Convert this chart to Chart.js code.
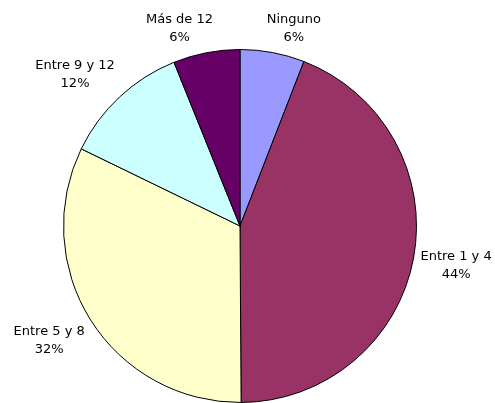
<!DOCTYPE html>
<html>
<head>
<meta charset="utf-8">
<script src="https://cdn.jsdelivr.net/npm/chart.js@4/dist/chart.umd.min.js"></script>
<style>
  html, body { margin: 0; padding: 0; background: #ffffff; }
  #wrap { width: 495px; height: 403px; position: relative; }
</style>
</head>
<body>
<div id="wrap"><canvas id="c" width="495" height="403"></canvas></div>
<script>
const categories = ["Ninguno", "Entre 1 y 4", "Entre 5 y 8", "Entre 9 y 12", "Más de 12"];
const values = [5.9, 44.0, 32.3, 11.7, 6.1];
const percentLabels = ["6%", "44%", "32%", "12%", "6%"];
const colors = ["#9999FF", "#993366", "#FFFFCC", "#CCFFFF", "#660066"];

const outsideLabels = {
  id: 'outsideLabels',
  afterDatasetsDraw(chart) {
    const ctx = chart.ctx;
    const meta = chart.getDatasetMeta(0);
    ctx.save();
    ctx.font = '13px "DejaVu Sans", Verdana, sans-serif';
    ctx.fillStyle = '#000000';
    ctx.textAlign = 'center';
    ctx.textBaseline = 'middle';
    const lineGap = 18;
    const hh = 17;
    meta.data.forEach((arc, i) => {
      const p = arc.getProps(['x', 'y', 'startAngle', 'endAngle', 'outerRadius'], true);
      const mid = (p.startAngle + p.endAngle) / 2;
      const dx = Math.cos(mid), dy = Math.sin(mid);
      const hw = Math.max(ctx.measureText(categories[i]).width, ctx.measureText(percentLabels[i]).width) / 2;
      const R = p.outerRadius + 7;
      const fx = Math.sign(dx) * Math.min(1, Math.abs(dx) * 4);
      const fy = Math.sign(dy) * Math.min(1, Math.abs(dy) * 2);
      const cx = p.x + dx * R + hw * fx;
      const cy = p.y + dy * R + hh * fy;
      ctx.fillText(categories[i], cx, cy - lineGap / 2);
      ctx.fillText(percentLabels[i], cx, cy + lineGap / 2);
    });
    ctx.restore();
  }
};

new Chart(document.getElementById('c'), {
  type: 'pie',
  data: {
    labels: categories,
    datasets: [{
      data: values,
      backgroundColor: colors,
      borderColor: '#000000',
      borderWidth: 1,
      hoverOffset: 0
    }]
  },
  options: {
    responsive: false,
    animation: false,
    layout: { padding: { top: 49, bottom: 0, left: 63, right: 78 } },
    plugins: {
      legend: { display: false },
      tooltip: { enabled: false }
    }
  },
  plugins: [outsideLabels]
});
</script>
</body>
</html>
